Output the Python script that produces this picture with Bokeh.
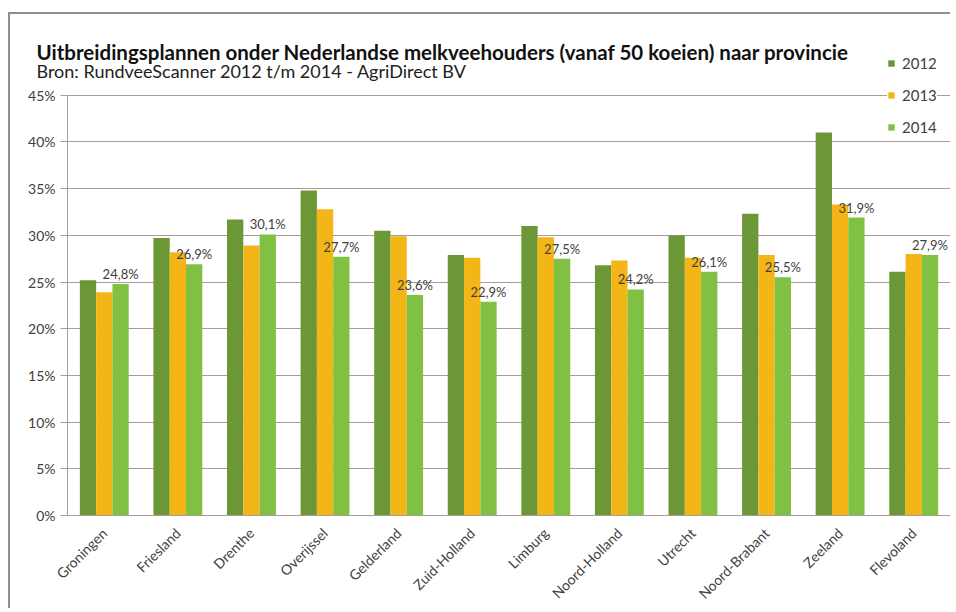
import math
from bokeh.plotting import figure
from bokeh.models import (ColumnDataSource, FactorRange, Range1d, FixedTicker,
                          PrintfTickFormatter, Title, Legend)
from bokeh.transform import dodge
from bokeh.core.properties import value
from bokeh.embed import file_html
from bokeh.resources import INLINE

provinces = ["Groningen", "Friesland", "Drenthe", "Overijssel", "Gelderland",
             "Zuid-Holland", "Limburg", "Noord-Holland", "Utrecht",
             "Noord-Brabant", "Zeeland", "Flevoland"]
v2012 = [25.2, 29.7, 31.7, 34.8, 30.5, 27.9, 31.0, 26.8, 30.0, 32.3, 41.0, 26.1]
v2013 = [23.9, 28.2, 28.9, 32.8, 29.9, 27.6, 29.8, 27.3, 27.6, 27.9, 33.3, 28.0]
v2014 = [24.8, 26.9, 30.1, 27.7, 23.6, 22.9, 27.5, 24.2, 26.1, 25.5, 31.9, 27.9]
y_ticks = [0, 5, 10, 15, 20, 25, 30, 35, 40, 45]
series_names = ["2012", "2013", "2014"]

title_text = "Uitbreidingsplannen onder Nederlandse melkveehouders (vanaf 50 koeien) naar provincie"
subtitle_text = "Bron: RundveeScanner 2012 t/m 2014 - AgriDirect BV"

labels2014 = [("%.1f" % v).replace(".", ",") + "%" for v in v2014]
src = ColumnDataSource(dict(prov=provinces, v2012=v2012, v2013=v2013,
                            v2014=v2014, lab=labels2014))

FONT = "Lato"
TXT = "#404040"
GRID = "#a89c98"
colors = ["#6B9737", "#F4B616", "#80C143"]

y_top = y_ticks[-1] * 465 / 423  # extra room above 45% for the legend

p = figure(x_range=FactorRange(factors=provinces, range_padding=0),
           y_range=Range1d(0, y_top), width=942, height=596,
           output_backend="svg", toolbar_location=None,
           min_border_left=57, min_border_right=2,
           min_border_top=39, min_border_bottom=92,
           background_fill_color="white", border_fill_color="white")
p.outline_line_color = None
p.margin = (12, 0, 0, 8)
p.styles = {"border-left": "2px solid #8f8f8f", "border-top": "2px solid #8f8f8f"}

bw = 0.2215
offs = [-bw, 0.0, bw]
items = []
for name, col, off, c in zip(series_names, ["v2012", "v2013", "v2014"], offs, colors):
    r = p.vbar(x=dodge("prov", off, range=p.x_range), top=col, width=bw,
               source=src, fill_color=c, line_color=None)
    items.append((name, [r]))

p.text(x=dodge("prov", bw, range=p.x_range), y="v2014", text="lab", source=src,
       text_font=value(FONT), text_font_size="13px", text_color=TXT,
       text_align="center", text_baseline="alphabetic", y_offset=-10)

# y axis
p.yaxis.ticker = FixedTicker(ticks=y_ticks)
p.yaxis.bounds = (y_ticks[0], y_ticks[-1])
p.yaxis.formatter = PrintfTickFormatter(format="%d%%")
p.yaxis.major_label_text_font = FONT
p.yaxis.major_label_text_font_size = "14px"
p.yaxis.major_label_text_color = TXT
p.yaxis.axis_line_color = GRID
p.yaxis.major_tick_line_color = GRID
p.yaxis.major_tick_out = 7
p.yaxis.major_tick_in = 0
p.yaxis.minor_tick_line_color = None
p.yaxis.major_label_standoff = 5

# x axis
p.xaxis.major_label_orientation = math.pi / 4
p.xaxis.major_label_text_font = FONT
p.xaxis.major_label_text_font_size = "14px"
p.xaxis.major_label_text_color = TXT
p.xaxis.axis_line_color = GRID
p.xaxis.major_tick_line_color = None
p.xaxis.major_label_standoff = 9

p.xgrid.grid_line_color = None
p.ygrid.grid_line_color = GRID
p.ygrid.grid_line_width = 1

# titles (subtitle is nearest the frame; a leading blank line lets it sit lower)
p.title.text = "\n" + title_text
p.title.align = "left"
p.title.offset = -31
p.title.text_font = FONT
p.title.text_font_size = "20.5px"
p.title.text_font_style = "bold"
p.title.text_line_height = 1.2
p.title.text_color = "#111111"
p.title.standoff = -45
p.add_layout(Title(text="\n" + subtitle_text, align="left", offset=-31,
                   text_font=FONT, text_font_size="18px",
                   text_font_style="normal", text_line_height=2.0,
                   text_color="#222222", standoff=-56), "above")

legend = Legend(items=items, location=(820, 378), padding=23, spacing=12,
                label_height=20, glyph_width=8, glyph_height=8,
                label_standoff=7, label_text_font=FONT,
                label_text_font_size="15px", label_text_color=TXT,
                background_fill_color="white", background_fill_alpha=1.0,
                border_line_color=None, margin=0)
p.add_layout(legend, "center")

open("out.html", "w").write(file_html(p, INLINE))
